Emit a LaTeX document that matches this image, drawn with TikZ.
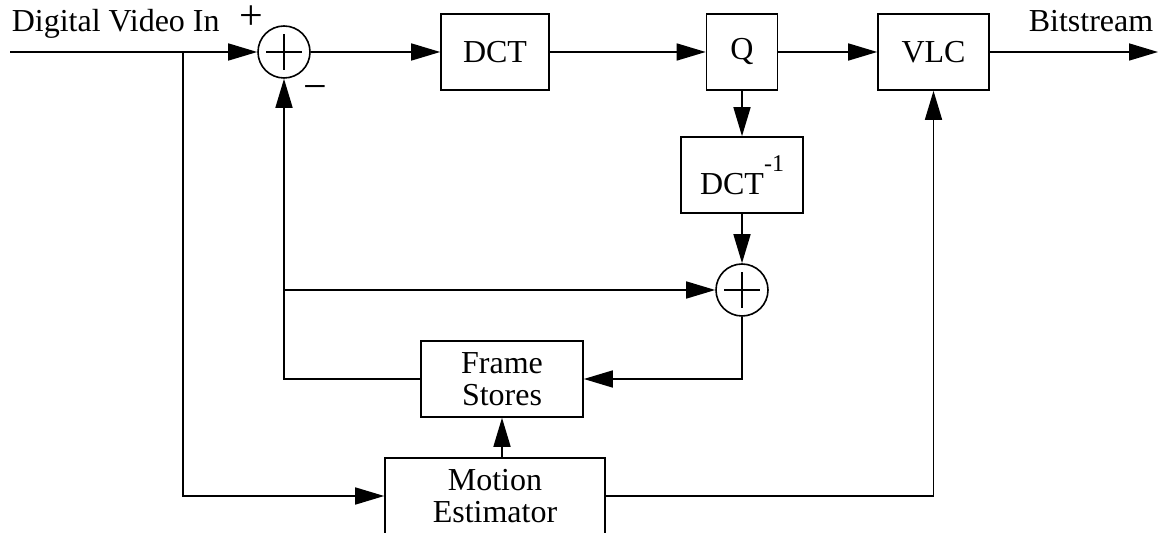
\documentclass[tikz,border=0pt]{standalone}
\usepackage{fontspec}
\setmainfont{Liberation Serif}
\usetikzlibrary{arrows.meta, positioning}
\tikzset{
	blocktext/.style={font=\fontsize{16}{16}\selectfont}
}
\tikzset{
	signtext/.style={font=\fontsize{21}{21}\selectfont, inner sep=0pt}
}
\tikzset{
	blockbox/.style={draw, inner sep=0pt, minimum height=38pt, align=center, blocktext}
}
\tikzset{
	sumcircle/.style={draw, circle, inner sep=0pt, minimum size=26pt,
		path picture={
			\draw[line width=0.6pt] ([xshift=-9pt]path picture bounding box.center) -- ([xshift=9pt]path picture bounding box.center);
			\draw[line width=0.6pt] ([yshift=-9pt]path picture bounding box.center) -- ([yshift=9pt]path picture bounding box.center);
		}}
}

\begin{document}
\begin{tikzpicture}[x=0.5pt, y=-0.5pt, line width=0.8pt, >={Triangle[length=14.5pt,width=8.5pt]}]
      \useasboundingbox (0,0) rectangle (1160,533);
      % forward path
      \node[sumcircle] (sub) at (284,52) {};
      \node[blockbox, minimum width=54pt] (dct) at (495,52) {DCT};
      \node[blockbox, minimum width=35.5pt] (quant) at (742,52) {Q};
      \node[blockbox, minimum width=55.5pt] (vlc) at (933.5,52) {VLC};
      % reconstruction loop
      \node[blockbox, minimum width=61pt] (idct) at (742,175) {DCT\raisebox{11.5pt}{\fontsize{12}{12}\selectfont -1}};
      \node[sumcircle] (add) at (742,290) {};
      \node[blockbox, minimum width=81pt] (frames) at (502,379) {Frame\\Stores};
      \node[blockbox, minimum width=110pt] (motion) at (495,496) {Motion\\Estimator};
      % labels
      \node[blocktext, inner sep=0pt, anchor=base west] (inlabel) at (11,32) {Digital Video In};
      \node[blocktext, inner sep=0pt, anchor=base east] (outlabel) at (1154,32) {Bitstream};
      \node[signtext] (plus) at (251,18) {+};
      \node[signtext] (minus) at (315,93) {−};
      \coordinate (in) at (10,52);
      \coordinate (tap) at (183,52);
      \coordinate (out) at (1158,52);
      \coordinate (fbtap) at (sub |- add);
      \draw[->] (in) -- (sub);
      \draw[->] (sub) -- (dct);
      \draw[->] (dct) -- (quant);
      \draw[->] (quant) -- (vlc);
      \draw[->] (vlc) -- (out);
      \draw[->] (quant) -- (idct);
      \draw[->] (idct) -- (add);
      \draw[->] (add) |- (frames);
      \draw[->] (frames.west) -| (sub.south);
      \draw[->] (fbtap) -- (add);
      % motion estimation
      \draw[->] (tap) |- (motion);
      \draw[->] (frames |- motion.north) -- (frames);
      \draw[->] (motion.east) -| (vlc.south);
    \end{tikzpicture}
\end{document}
